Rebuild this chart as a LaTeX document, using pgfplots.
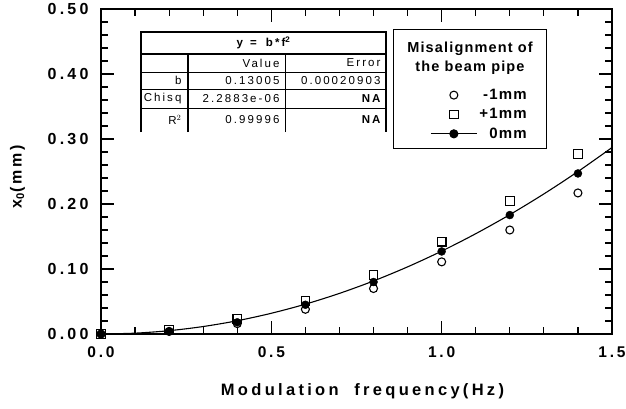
\documentclass[border=0pt]{standalone}
\usepackage{fontspec}
\setmainfont{Liberation Sans}
\newfontfamily\tickfont[LetterSpace=18]{Liberation Sans}
\newfontfamily\ytickfont[LetterSpace=20]{Liberation Sans}
\newfontfamily\lblfont[LetterSpace=20]{Liberation Sans}
\newfontfamily\ylblfont[LetterSpace=18]{Liberation Sans}
\newfontfamily\legfont[LetterSpace=8]{Liberation Sans}
\newfontfamily\tabfont[LetterSpace=18]{Liberation Sans}
\usepackage{pgfplots}
\pgfplotsset{compat=1.18}
\pgfplotsset{
  midmark legend/.style={legend image code/.code={\draw[##1] plot coordinates {(23pt,0pt)};}},
  linemark legend/.style={legend image code/.code={\draw[mark repeat=2,mark phase=2,##1] plot coordinates {(0pt,0pt)(23pt,0pt)(46pt,0pt)};}},
}

\begin{document}
\begin{tikzpicture}[x=1pt,y=1pt]
\begin{axis}[
    at={(0,0)}, anchor=south west,
    scale only axis,
    width=511pt, height=325pt,
    xmin=0, xmax=1.5, ymin=0, ymax=0.5,
    xtick={0,0.5,1,1.5},
    xticklabels={0.0,0.5,1.0,1.5},
    ytick={0,0.1,0.2,0.3,0.4,0.5},
    yticklabels={0.00,0.10,0.20,0.30,0.40,0.50},
    minor x tick num=4,
    minor y tick num=4,
    tick align=inside,
    major tick length=13pt,
    minor tick length=7pt,
    every tick/.style={black, line width=1.2pt},
    axis line style={line width=1.6pt},
    xticklabel style={font=\tickfont\bfseries\fontsize{15.5}{17}\selectfont, yshift=-9pt},
    yticklabel style={font=\ytickfont\bfseries\fontsize{16}{18}\selectfont, xshift=-9pt},
    xlabel={\lblfont\bfseries\fontsize{16.5}{18}\selectfont Modulation\ \ frequency(Hz)},
    ylabel={\ylblfont\bfseries\fontsize{16}{18}\selectfont x$_{\mathbf 0}$(mm)},
    xlabel style={yshift=-19pt, xshift=6pt},
    ylabel style={yshift=16pt, xshift=-5pt},
    legend cell align=right,
    legend style={at={(431pt,249pt)}, anchor=north east, draw=none, fill=none,
        font=\legfont\bfseries\fontsize{15}{17}\selectfont, row sep=3.5pt,
        nodes={inner sep=2pt}},
]
% -1 mm
\addplot[only marks, mark=o, mark size=4pt, mark options={line width=1.1pt}, black, midmark legend]
  coordinates {(0,0) (0.2,0.004) (0.4,0.016) (0.6,0.038) (0.8,0.070) (1.0,0.111) (1.2,0.160) (1.4,0.217)};
\addlegendentry{-1mm}
% +1 mm
\addplot[only marks, mark=square, mark size=4.3pt, mark options={line width=1.1pt}, black, midmark legend]
  coordinates {(0,0) (0.2,0.006) (0.4,0.023) (0.6,0.051) (0.8,0.091) (1.0,0.142) (1.2,0.205) (1.4,0.277)};
\addlegendentry{+1mm}
% fit y = b f^2
\addplot[black, line width=1.1pt, smooth, forget plot]
  coordinates {(0,0) (0.1,0.0013) (0.2,0.0051) (0.3,0.0115) (0.4,0.0204) (0.5,0.0319)
    (0.6,0.0459) (0.7,0.0625) (0.8,0.0816) (0.9,0.1033) (1.0,0.1275) (1.1,0.1543)
    (1.2,0.1836) (1.3,0.2155) (1.4,0.2499) (1.5,0.2869)};
% 0 mm
\addplot[only marks, mark=*, mark size=4pt, black, forget plot]
  coordinates {(0,0) (0.2,0.004) (0.4,0.018) (0.6,0.045) (0.8,0.080) (1.0,0.127) (1.2,0.183) (1.4,0.247)};
\addlegendimage{black, line width=1.1pt, mark=*, mark size=4pt, linemark legend}
\addlegendentry{0mm}
\end{axis}

% legend frame and title
\draw[line width=0.8pt] (292,186) rectangle (445,305);
\node[align=center, font=\legfont\bfseries\fontsize{14.5}{19}\selectfont] at (369,276)
  {Misalignment of\\the beam pipe};

% fit table
\begin{scope}[font=\tabfont\fontsize{11.5}{13}\selectfont]
\fill[white] (40,202) rectangle (285,302);
\draw[line width=1.6pt] (40,202) -- (40,302) -- (285,302) -- (285,202);
\draw[line width=1.6pt] (40,280) -- (285,280);
\draw[line width=0.6pt] (40,262) -- (285,262) (40,245) -- (285,245) (40,226) -- (285,226);
\draw[line width=1.6pt] (87,202) -- (87,280);
\draw[line width=0.8pt] (184,202) -- (184,280);
\node[font=\tabfont\bfseries\fontsize{11.5}{13}\selectfont] at (162.5,291) {y \,=\,\, b*f$^{\mathbf 2}$};
\node[anchor=east] at (84,253.5) {b};
\node[anchor=east] at (84,235.5) {Chisq};
\node[anchor=east] at (84,214) {R$^2$};
\node[anchor=east] at (182,271) {Value};
\node[anchor=east] at (182,253.5) {0.13005};
\node[anchor=east] at (182,235.5) {2.2883e-06};
\node[anchor=east] at (182,214) {0.99996};
\node[anchor=east] at (283,271) {Error};
\node[anchor=east] at (283,253.5) {0.00020903};
\node[anchor=east, font=\tabfont\bfseries\fontsize{11.5}{13}\selectfont] at (283,235.5) {NA};
\node[anchor=east, font=\tabfont\bfseries\fontsize{11.5}{13}\selectfont] at (283,214) {NA};
\end{scope}

\pgfresetboundingbox
\useasboundingbox (-101,-74) rectangle (525,334);
\end{tikzpicture}
\end{document}
